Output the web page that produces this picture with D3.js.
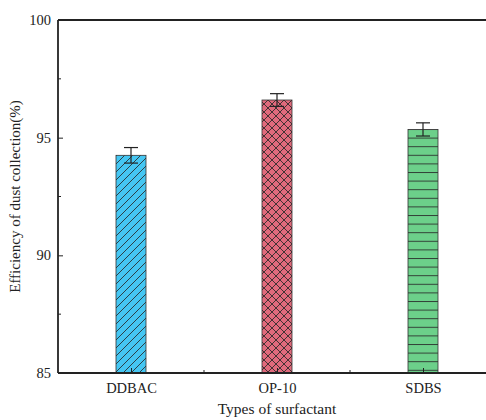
<!DOCTYPE html>
<html>
<head>
<meta charset="utf-8">
<script src="https://cdn.jsdelivr.net/npm/d3@7"></script>
<style>
  html, body { margin: 0; padding: 0; background: #fff; }
  svg { display: block; }
  text { font-family: "Liberation Serif", "Times New Roman", serif; fill: #222; }
</style>
</head>
<body>
<svg id="chart" width="486" height="420"></svg>
<script>
// Dust-collection efficiency by surfactant type
const categories = ["DDBAC", "OP-10", "SDBS"];
const efficiency = [94.25, 96.6, 95.35];
const errors = [0.33, 0.27, 0.28];
const yTicks = [85, 90, 95, 100];
const yMinorTicks = [87.5, 92.5, 97.5];
const fills = ["#45c6f2", "#e06a7c", "#6cd08a"];
const patterns = ["diag", "cross", "horiz"];

const svg = d3.select("#chart");
const margin = { left: 58, top: 20, bottom: 373 };
// plot frame runs past the right edge of the page
const plotRight = 496;

const x = d3.scaleLinear().domain([0.5, 3.5]).range([margin.left, plotRight]);
const y = d3.scaleLinear().domain([85, 100]).range([margin.bottom, margin.top]);

// hatch patterns
const defs = svg.append("defs");
function makePattern(id, kind, color) {
  const p = defs.append("pattern")
    .attr("id", id)
    .attr("patternUnits", "userSpaceOnUse");
  const ink = "rgba(40,40,40,0.85)";
  if (kind === "diag") {
    p.attr("width", 8).attr("height", 8);
    p.append("rect").attr("width", 8).attr("height", 8).attr("fill", color);
    p.append("path").attr("d", "M-2,2 L2,-2 M0,8 L8,0 M6,10 L10,6")
      .attr("stroke", ink).attr("stroke-width", 1);
  } else if (kind === "cross") {
    p.attr("width", 8).attr("height", 8);
    p.append("rect").attr("width", 8).attr("height", 8).attr("fill", color);
    p.append("path").attr("d", "M-2,2 L2,-2 M0,8 L8,0 M6,10 L10,6 M-2,6 L2,10 M0,0 L8,8 M6,-2 L10,2")
      .attr("stroke", ink).attr("stroke-width", 1);
  } else {
    p.attr("width", 8).attr("height", 8.6);
    p.append("rect").attr("width", 8).attr("height", 8.6).attr("fill", color);
    p.append("line").attr("x1", 0).attr("x2", 8).attr("y1", 0.5).attr("y2", 0.5)
      .attr("stroke", ink).attr("stroke-width", 1);
  }
}
categories.forEach((c, i) => makePattern("pat" + i, patterns[i], fills[i]));

const barW = 30;
const g = svg.append("g");

// bars
g.selectAll("rect.bar")
  .data(efficiency)
  .join("rect")
  .attr("class", "bar")
  .attr("x", (d, i) => x(i + 1) - barW / 2)
  .attr("width", barW)
  .attr("y", d => y(d))
  .attr("height", d => y(85) - y(d))
  .attr("fill", (d, i) => `url(#pat${i})`)
  .attr("stroke", "#333")
  .attr("stroke-width", 0.8);

// error bars
const capW = 14;
efficiency.forEach((v, i) => {
  const cx = x(i + 1);
  const eg = g.append("g").attr("stroke", "#222").attr("stroke-width", 1.2);
  eg.append("line").attr("x1", cx).attr("x2", cx).attr("y1", y(v + errors[i])).attr("y2", y(v - errors[i]));
  eg.append("line").attr("x1", cx - capW / 2).attr("x2", cx + capW / 2).attr("y1", y(v + errors[i])).attr("y2", y(v + errors[i]));
  eg.append("line").attr("x1", cx - capW / 2).attr("x2", cx + capW / 2).attr("y1", y(v - errors[i])).attr("y2", y(v - errors[i]));
});

// y axis (ticks inward)
const yAxis = d3.axisLeft(y).tickValues(yTicks).tickSize(-5).tickPadding(7).tickFormat(d3.format("d"));
const yG = svg.append("g").attr("transform", `translate(${margin.left},0)`).call(yAxis);
yG.selectAll(".tick").filter(d => d === 100 || d === 85).select("line").remove();
yG.append("g").selectAll("line").data(yMinorTicks).join("line")
  .attr("x1", 0).attr("x2", 3).attr("y1", d => y(d)).attr("y2", d => y(d))
  .attr("stroke", "#222");

// x axis (ticks inward)
const xAxis = d3.axisBottom(x).tickValues([1, 2, 3]).tickSize(-5).tickPadding(10)
  .tickFormat(d => categories[d - 1]);
const xG = svg.append("g").attr("transform", `translate(0,${margin.bottom})`).call(xAxis);
xG.append("g").selectAll("line").data([1.5, 2.5]).join("line")
  .attr("x1", d => x(d)).attr("x2", d => x(d)).attr("y1", 0).attr("y2", -3)
  .attr("stroke", "#222");

[yG, xG].forEach(a => {
  a.select(".domain").remove();
  a.selectAll(".tick line").attr("stroke", "#222").attr("stroke-width", 1);
  a.selectAll("text").attr("font-size", 14.5).attr("font-family", "Liberation Serif, serif").attr("fill", "#333");
});

// frame
svg.append("line").attr("x1", margin.left).attr("x2", plotRight).attr("y1", margin.top).attr("y2", margin.top)
  .attr("stroke", "#222").attr("stroke-width", 1.8);
svg.append("line").attr("x1", margin.left).attr("x2", plotRight).attr("y1", margin.bottom).attr("y2", margin.bottom)
  .attr("stroke", "#222").attr("stroke-width", 1.8);
svg.append("line").attr("x1", margin.left).attr("x2", margin.left).attr("y1", margin.top).attr("y2", margin.bottom)
  .attr("stroke", "#222").attr("stroke-width", 1.8);

// axis titles
svg.append("text")
  .attr("x", x(2)).attr("y", 414)
  .attr("text-anchor", "middle").attr("font-size", 15.5).attr("fill", "#333")
  .text("Types of surfactant");
svg.append("text")
  .attr("transform", `translate(20,${(margin.top + margin.bottom) / 2}) rotate(-90)`)
  .attr("text-anchor", "middle").attr("font-size", 15).attr("fill", "#333")
  .text("Efficiency of dust collection(%)");
</script>
</body>
</html>
